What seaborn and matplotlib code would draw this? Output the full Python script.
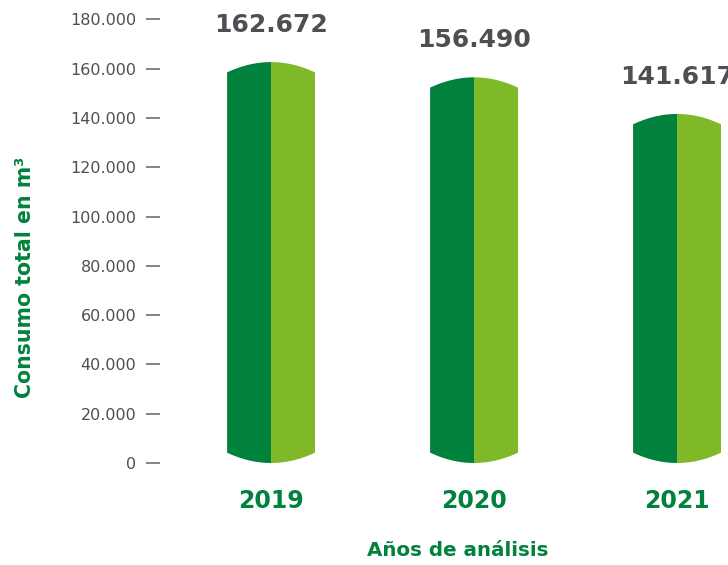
"""
Consumo total de agua por año (m3)
Barras tipo cilindro con dos tonos de verde
"""

import pandas as pd
import numpy as np
import matplotlib.pyplot as plt
import seaborn as sns
from matplotlib.path import Path
from matplotlib.patches import PathPatch

# data
years = ['2019', '2020', '2021']
consumo = [162672, 156490, 141617]
y_ticks = [0, 20000, 40000, 60000, 80000, 100000, 120000, 140000, 160000, 180000]

dark_green = '#00823c'
light_green = '#80b927'
text_gray = '#4d4f53'

df = pd.DataFrame({
    'year': years * 2,
    'half': ['left'] * 3 + ['right'] * 3,
    'value': consumo * 2,
})

sns.set_theme(style='white')
plt.rcParams['font.family'] = ['DejaVu Sans']

fig = plt.figure(figsize=(7.28, 5.65), dpi=100)
ax = fig.add_axes([160 / 728, 102 / 565, 568 / 728, 453 / 565])

bar_width = 0.433
sns.barplot(data=df, x='year', y='value', hue='half', order=years,
            hue_order=['left', 'right'], palette=[dark_green, light_green],
            width=bar_width, gap=0, legend=False, ax=ax, saturation=1)

ax.set_xlim(-0.547, 2.251)
ax.set_ylim(0, 183800)

# turn the flat rectangles into rounded cylinder shapes
bulge = 4200
half_w = bar_width / 2
for p in list(ax.patches):
    x0 = p.get_x()
    x1 = x0 + p.get_width()
    top = p.get_height()
    c = round((x0 + x1) / 2)
    xs = np.linspace(x0, x1, 40)
    curve = bulge * ((xs - c) / half_w) ** 2
    top_y = top - curve
    bot_y = curve
    verts = list(zip(xs, top_y)) + list(zip(xs[::-1], bot_y[::-1])) + [(xs[0], top_y[0])]
    codes = [Path.MOVETO] + [Path.LINETO] * (len(verts) - 2) + [Path.CLOSEPOLY]
    shape = PathPatch(Path(verts, codes), facecolor=p.get_facecolor(),
                      edgecolor='none', clip_on=False, zorder=2)
    p.set_visible(False)
    ax.add_patch(shape)

# value labels above bars
for i, v in enumerate(consumo):
    ax.annotate(f'{v:,}'.replace(',', '.'), (i, v), xytext=(0, 18),
                textcoords='offset points', ha='center', va='bottom',
                fontsize=18, fontweight='bold', color=text_gray,
                annotation_clip=False)

ax.set_yticks(y_ticks)
ax.set_yticklabels([f'{t:,}'.replace(',', '.') for t in y_ticks])
ax.tick_params(axis='y', length=10, width=1.2, color='#6d6e71', pad=7,
               labelsize=11.5, labelcolor=text_gray, left=True)
ax.tick_params(axis='x', length=0, pad=19, labelsize=17, labelcolor=dark_green)
for lab in ax.get_xticklabels():
    lab.set_fontweight('bold')

for s in ax.spines.values():
    s.set_visible(False)
ax.set_xlabel('')
ax.set_ylabel('')

fig.text(25 / 728, 1 - 277 / 565, 'Consumo total en m³', rotation=90,
         ha='center', va='center', fontsize=14.8, fontweight='bold', color=dark_green)
fig.text(458 / 728, 1 - 551 / 565, 'Años de análisis', ha='center', va='center',
         fontsize=14.3, fontweight='bold', color=dark_green)

fig.savefig('out.png', dpi=100, facecolor='white')
